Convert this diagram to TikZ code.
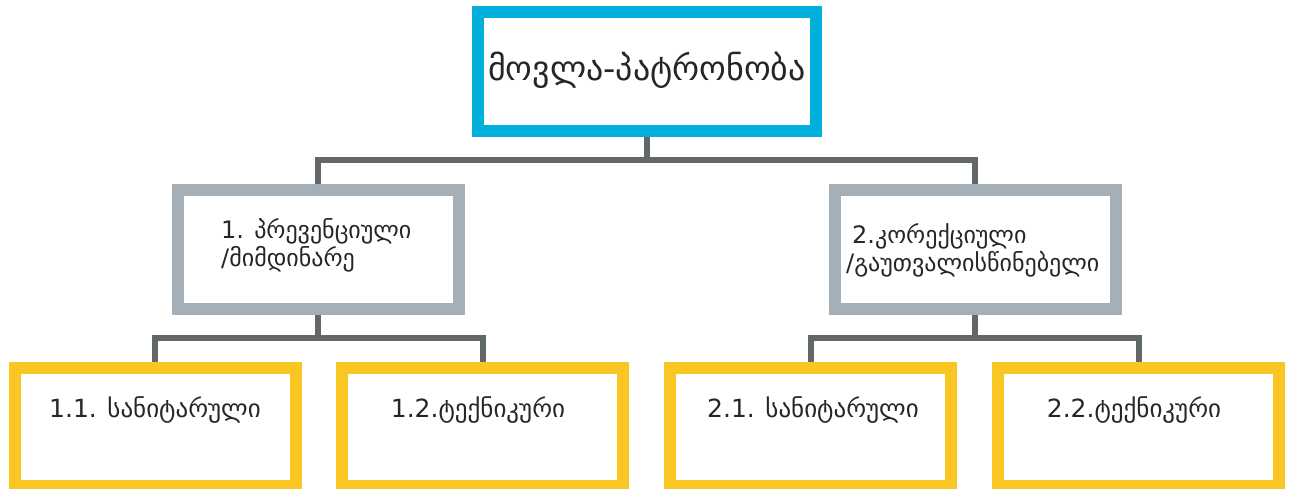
\documentclass[tikz,border=0pt]{standalone}
\usepackage{fontspec}
\setmainfont{DejaVu Sans}
\definecolor{topblue}{HTML}{00B0DA}
\definecolor{midgray}{HTML}{A5AFB8}
\definecolor{linegray}{HTML}{62676A}
\definecolor{boxyellow}{HTML}{F9C623}
\definecolor{txt}{HTML}{262626}
\begin{document}
\begin{tikzpicture}[x=1pt,y=-1pt,
  boxbase/.style={draw,fill=white,line width=12pt,inner sep=0pt,outer sep=6pt},
  bluebox/.style={boxbase,draw=topblue,minimum width=338pt,minimum height=119pt},
  graybox/.style={boxbase,draw=midgray,minimum width=281.5pt,minimum height=119pt},
  yellowbox/.style={boxbase,draw=boxyellow,minimum width=281pt,minimum height=118.5pt},
  conn/.style={draw=linegray,line width=6pt},
  lbl/.style={text=txt,inner sep=0pt,font=\fontsize{25}{27}\selectfont},
  midlbl/.style={text=txt,inner sep=0pt,align=left,anchor=west,font=\fontsize{24}{28}\selectfont},
  toplbl/.style={text=txt,inner sep=0pt,font=\fontsize{34}{36}\selectfont}]
\useasboundingbox (0,0) rectangle (1293,488);
% boxes
\node[bluebox] (top) at (647,71.5) {};
\node[graybox] (ml) at (318.25,249.5) {};
\node[graybox] (mr) at (975.25,249.5) {};
\node[yellowbox] (b1) at (155,426.75) {};
\node[yellowbox] (b2) at (482.75,426.75) {};
\node[yellowbox] (b3) at (810.5,426.75) {};
\node[yellowbox] (b4) at (1138.75,426.75) {};
% junctions
\coordinate (j0) at (647,160);
\coordinate (j1) at (318.25,338);
\coordinate (j2) at (975.25,338);
% connectors
\draw[conn] (top.south) -- (j0);
\draw[conn] (ml.north) |- (j0) -| (mr.north);
\draw[conn] (ml.south) -- (j1);
\draw[conn] (b1.north) |- (j1) -| (b2.north);
\draw[conn] (mr.south) -- (j2);
\draw[conn] (b3.north) |- (j2) -| (b4.north);
% labels
\node[toplbl] (tt) at (647,70) {მოვლა-პატრონობა};
\node[midlbl] (tml) at (221,245) {1. პრევენციული\\/მიმდინარე};
\node[midlbl] (tmr) at (846,250) {\hspace{6pt}2.კორექციული\\/გაუთვალისწინებელი};
\node[lbl] (t1) at (155,410) {1.1. სანიტარული};
\node[lbl] (t2) at (478,410) {1.2.ტექნიკური};
\node[lbl] (t3) at (813,410) {2.1. სანიტარული};
\node[lbl] (t4) at (1134,410) {2.2.ტექნიკური};
\end{tikzpicture}
\end{document}
